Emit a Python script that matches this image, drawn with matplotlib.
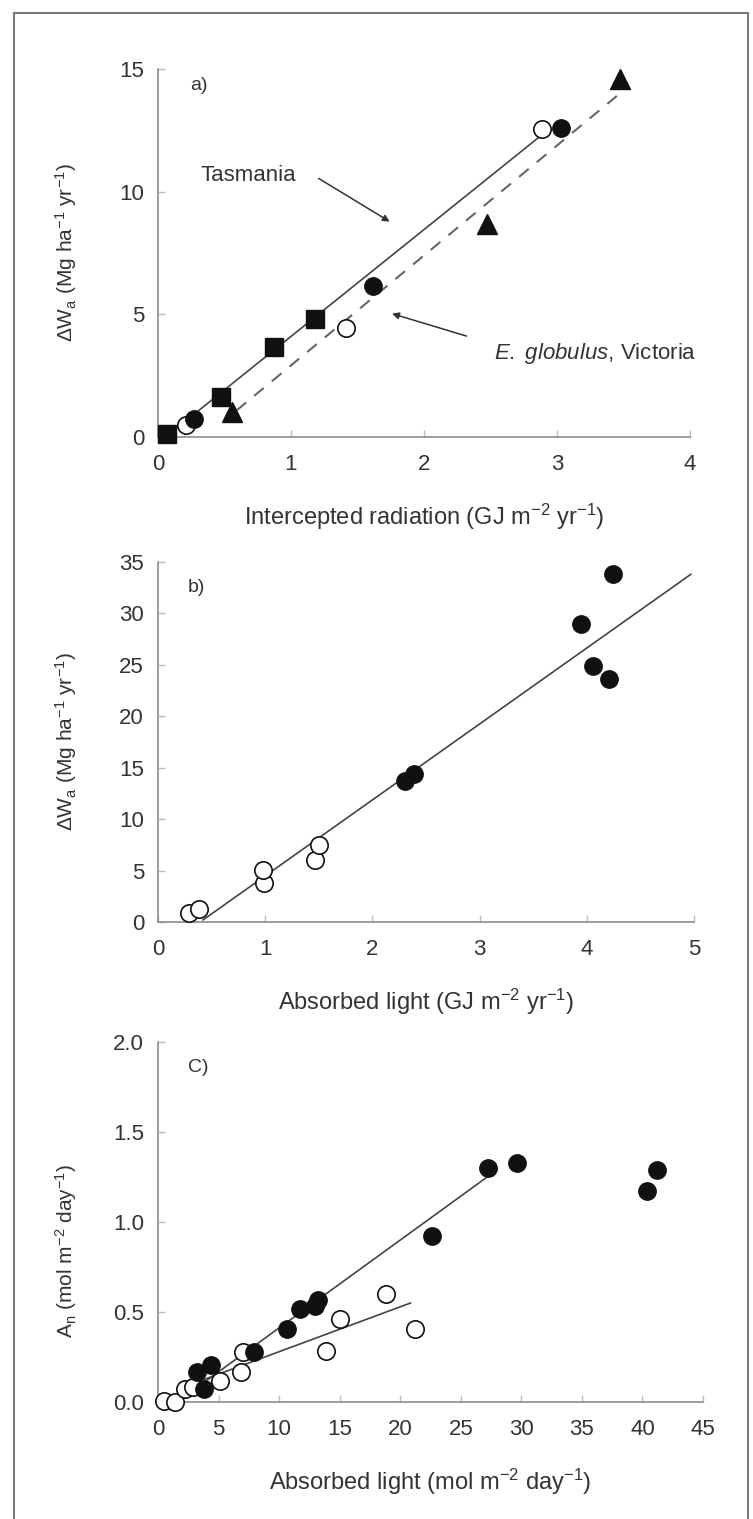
import matplotlib
matplotlib.use('Agg')
import matplotlib.pyplot as plt
from matplotlib.patches import Rectangle

plt.rcParams['font.family'] = ['Liberation Sans', 'DejaVu Sans']
plt.rcParams['mathtext.fontset'] = 'custom'
plt.rcParams['mathtext.rm'] = 'Liberation Sans'
plt.rcParams['mathtext.it'] = 'Liberation Sans:italic'
plt.rcParams['mathtext.default'] = 'regular'

# ---- panel a: intercepted radiation vs stem growth ----
sq_x = [0.07, 0.47, 0.87, 1.18]
sq_y = [0.14, 1.62, 3.65, 4.82]
fc_a_x = [0.27, 1.62, 3.03]
fc_a_y = [0.74, 6.15, 12.6]
oc_a_x = [0.21, 1.41, 2.89]
oc_a_y = [0.47, 4.46, 12.57]
tri_x = [0.555, 2.47, 3.47]
tri_y = [1.0, 8.7, 14.6]
tas_line_x = [0.07, 2.86]
tas_line_y = [0.05, 12.2]
vic_line_x = [0.59, 3.45]
vic_line_y = [1.08, 13.9]

# ---- panel b ----
oc_b_x = [0.29, 0.38, 0.99, 0.98, 1.46, 1.50]
oc_b_y = [0.91, 1.3, 3.84, 5.05, 6.0, 7.5]
fc_b_x = [2.30, 2.39, 3.95, 4.06, 4.21, 4.24]
fc_b_y = [13.7, 14.4, 29.0, 24.9, 23.6, 33.8]
b_line_x = [0.42, 4.97]
b_line_y = [0.2, 33.8]

# ---- panel c ----
fc_c_x = [3.26, 3.77, 4.39, 7.89, 10.63, 11.73, 12.96, 13.2, 22.63, 27.26, 29.66, 40.4, 41.2]
fc_c_y = [0.166, 0.074, 0.206, 0.28, 0.405, 0.516, 0.535, 0.566, 0.92, 1.30, 1.327, 1.17, 1.29]
oc_c_x = [0.51, 1.37, 2.23, 2.9, 5.14, 6.86, 7.03, 13.9, 15.0, 18.8, 21.26]
oc_c_y = [0.004, 0.0, 0.074, 0.083, 0.116, 0.166, 0.276, 0.286, 0.46, 0.60, 0.405]
c_fill_line_x = [3.0, 28.0]
c_fill_line_y = [0.07, 1.29]
c_open_line_x = [2.0, 20.85]
c_open_line_y = [0.08, 0.55]

W, H = 753, 1519
fig = plt.figure(figsize=(W / 100, H / 100), dpi=100)

spine_c = '#8c8c8c'
text_c = '#333333'
mark_c = '#111111'


def px_axes(left, right, bottom, top):
    return fig.add_axes([left / W, 1 - bottom / H, (right - left) / W, (bottom - top) / H])


def style(ax, xticks, yticks, xlabel, ylabel, ylab_y=0.5, yfmt=None):
    for s in ['top', 'right']:
        ax.spines[s].set_visible(False)
    for s in ['left', 'bottom']:
        ax.spines[s].set_color(spine_c)
        ax.spines[s].set_linewidth(1.2)
    ax.set_xticks(xticks)
    ax.set_yticks(yticks)
    if yfmt:
        ax.set_yticklabels([yfmt % v for v in yticks])
    ax.tick_params(direction='in', length=5, width=1, color='#bbbbbb',
                   labelsize=16, labelcolor=text_c)
    ax.tick_params(axis='x', pad=12)
    ax.tick_params(axis='y', pad=10)
    ax.set_xlabel(xlabel, fontsize=17, color=text_c, va='center')
    ax.set_ylabel(ylabel, fontsize=15, color=text_c, va='center')
    h = ax.get_position().height * H
    ax.xaxis.set_label_coords(0.5, -80 / h)
    ax.yaxis.set_label_coords(-92 / (ax.get_position().width * W), ylab_y)


def open_pts(ax, x, y):
    ax.plot(x, y, 'o', ms=12.5, mfc='white', mec=mark_c, mew=1.2, ls='none', clip_on=False, zorder=4)


def fill_pts(ax, x, y, m='o', ms=12.5):
    ax.plot(x, y, m, ms=ms, mfc=mark_c, mec=mark_c, mew=1, ls='none', clip_on=False, zorder=5)


# panel a
ax1 = px_axes(158, 690, 437, 69)
ax1.set_xlim(0, 4)
ax1.set_ylim(0, 15)
ax1.plot(tas_line_x, tas_line_y, color='#444444', lw=1.2, zorder=2)
ax1.plot(vic_line_x, vic_line_y, color='#666666', lw=1.5, ls=(0, (6, 5)), zorder=2)
fill_pts(ax1, sq_x, sq_y, 's', 12.5)
open_pts(ax1, oc_a_x, oc_a_y)
fill_pts(ax1, fc_a_x, fc_a_y)
fill_pts(ax1, tri_x, tri_y, '^', 14.5)
ax1.text(0.06, 0.955, 'a)', transform=ax1.transAxes, fontsize=14, color=text_c, va='center')
ax1.text(0.316, 10.64, 'Tasmania', fontsize=16, color=text_c, va='center')
ax1.annotate('', xy=(1.76, 8.72), xytext=(1.19, 10.6),
             arrowprops=dict(arrowstyle='-|>', lw=1.1, color='#333333', mutation_scale=10))
ax1.text(2.53, 3.42, r'$\mathit{E.\ globulus}$, Victoria', fontsize=16, color=text_c, va='center')
ax1.annotate('', xy=(1.74, 5.06), xytext=(2.34, 4.08),
             arrowprops=dict(arrowstyle='-|>', lw=1.1, color='#333333', mutation_scale=10))
style(ax1, [0, 1, 2, 3, 4], [0, 5, 10, 15],
      'Intercepted radiation (GJ m$^{-2}$ yr$^{-1}$)',
      'ΔW$_a$ (Mg ha$^{-1}$ yr$^{-1}$)')

# panel b
ax2 = px_axes(158, 694, 922, 562)
ax2.set_xlim(0, 5)
ax2.set_ylim(0, 35)
ax2.plot(b_line_x, b_line_y, color='#444444', lw=1.2, zorder=2)
open_pts(ax2, oc_b_x, oc_b_y)
fill_pts(ax2, fc_b_x, fc_b_y)
ax2.text(0.055, 0.93, 'b)', transform=ax2.transAxes, fontsize=14, color=text_c, va='center')
style(ax2, [0, 1, 2, 3, 4, 5], list(range(0, 36, 5)),
      'Absorbed light (GJ m$^{-2}$ yr$^{-1}$)',
      'ΔW$_a$ (Mg ha$^{-1}$ yr$^{-1}$)')

# panel c
ax3 = px_axes(158, 703, 1402, 1042)
ax3.set_xlim(0, 45)
ax3.set_ylim(0, 2.0)
ax3.plot(c_fill_line_x, c_fill_line_y, color='#444444', lw=1.2, zorder=2)
ax3.plot(c_open_line_x, c_open_line_y, color='#444444', lw=1.2, zorder=2)
open_pts(ax3, oc_c_x, oc_c_y)
fill_pts(ax3, fc_c_x, fc_c_y)
ax3.text(0.055, 0.93, 'C)', transform=ax3.transAxes, fontsize=14, color=text_c, va='center')
style(ax3, list(range(0, 46, 5)), [0.0, 0.5, 1.0, 1.5, 2.0],
      'Absorbed light (mol m$^{-2}$ day$^{-1}$)',
      'A$_n$ (mol m$^{-2}$ day$^{-1}$)', ylab_y=0.42, yfmt='%.1f')

# outer frame
fig.patches.append(Rectangle((14 / W, -0.01), (748 - 14) / W, 1 - 13 / H + 0.01,
                             transform=fig.transFigure, fill=False,
                             ec='#7a7a7a', lw=1.5, zorder=0))

fig.savefig('out.png', dpi=100)
